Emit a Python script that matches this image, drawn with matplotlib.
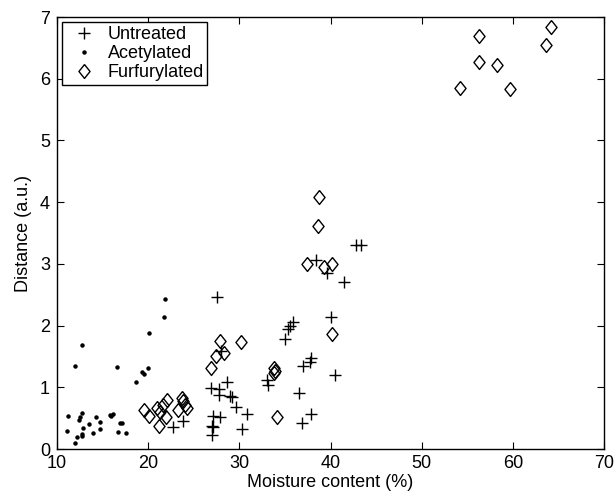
import matplotlib
matplotlib.use("Agg")
import matplotlib.pyplot as plt

plt.rcParams['font.family'] = ['Liberation Sans', 'DejaVu Sans']

# Untreated (+)
untreated_x = [42.8, 43.3, 38.4, 39.6, 41.5, 40.1, 40.5, 37.9, 37.8, 37.0, 37.9, 36.9,
               27.5, 35.9, 35.6, 35.3, 35.0, 33.0, 33.1, 26.9, 27.8, 28.6, 27.8, 29.0,
               29.2, 29.6, 30.8, 27.1, 27.9, 27.0, 27.1, 27.0, 30.3, 36.5, 23.8, 22.7,
               28.0]
untreated_y = [3.30, 3.30, 3.06, 2.85, 2.71, 2.14, 1.20, 1.47, 1.41, 1.35, 0.57, 0.42,
               2.46, 2.06, 1.99, 1.94, 1.78, 1.12, 1.04, 0.99, 0.97, 1.09, 0.88, 0.86,
               0.84, 0.68, 0.57, 0.53, 0.52, 0.37, 0.36, 0.23, 0.32, 0.91, 0.46, 0.36,
               1.58]

# Acetylated (.)
acetylated_x = [21.8, 21.7, 20.1, 12.7, 12.0, 16.6, 20.0, 19.3, 19.5, 18.7,
                11.2, 12.7, 12.5, 12.4, 12.9, 13.5, 14.3, 14.7, 14.7, 13.9,
                12.7, 12.7, 12.2, 11.1, 12.0, 15.8, 16.1, 15.9, 16.9, 17.1,
                16.7, 17.6]
acetylated_y = [2.43, 2.14, 1.88, 1.68, 1.35, 1.33, 1.31, 1.24, 1.22, 1.09,
                0.53, 0.58, 0.52, 0.47, 0.34, 0.41, 0.52, 0.44, 0.32, 0.26,
                0.24, 0.21, 0.19, 0.29, 0.10, 0.55, 0.57, 0.53, 0.42, 0.42,
                0.28, 0.26]

# Furfurylated (diamond)
furfurylated_x = [56.3, 64.2, 63.6, 56.3, 58.3, 54.2, 59.7,
                  38.7, 38.6, 37.4, 39.3, 40.2, 40.2,
                  27.9, 30.2, 28.3, 27.4, 26.9, 33.8, 33.9, 33.8, 34.1,
                  19.5, 20.1, 21.0, 21.3, 21.2, 22.1, 22.0, 21.6, 23.7, 23.8,
                  23.3, 24.3, 24.0]
furfurylated_y = [6.69, 6.84, 6.55, 6.27, 6.22, 5.85, 5.83,
                  4.08, 3.61, 3.00, 2.95, 3.00, 1.86,
                  1.75, 1.73, 1.56, 1.51, 1.31, 1.31, 1.26, 1.23, 0.52,
                  0.63, 0.53, 0.67, 0.60, 0.37, 0.79, 0.52, 0.71, 0.83, 0.77,
                  0.63, 0.66, 0.71]

xticks = [10, 20, 30, 40, 50, 60, 70]
yticks = [0, 1, 2, 3, 4, 5, 6, 7]

fig = plt.figure(figsize=(6.16, 4.95), dpi=100)
ax = fig.add_axes([57/616, 46/495, 547/616, 432/495])

diamond = [(0, 1), (0.8, 0), (0, -1), (-0.8, 0), (0, 1)]

ax.plot(untreated_x, untreated_y, linestyle='none', marker='+', markersize=9,
        markeredgewidth=1.0, color='black', label='Untreated')
ax.plot(acetylated_x, acetylated_y, linestyle='none', marker='o', markersize=2.2,
        color='black', label='Acetylated')
ax.plot(furfurylated_x, furfurylated_y, linestyle='none', marker=diamond, markersize=10,
        markeredgewidth=1.0, markerfacecolor='none', markeredgecolor='black',
        label='Furfurylated')

ax.set_xlim(10, 70)
ax.set_ylim(0, 7)
ax.set_xticks(xticks)
ax.set_yticks(yticks)
ax.tick_params(direction='in', top=True, right=True, length=5, width=0.8,
               labelsize=13, colors='black')
ax.tick_params(axis='y', pad=5)
ax.tick_params(axis='x', pad=4)
for s in ax.spines.values():
    s.set_linewidth(1.0)
ax.set_xlabel('Moisture content (%)', fontsize=13, labelpad=2)
ax.set_ylabel('Distance (a.u.)', fontsize=13, labelpad=6)

leg = ax.legend(loc='upper left', fontsize=13, frameon=True, fancybox=False,
                edgecolor='black', framealpha=1, borderpad=0.2, labelspacing=0.12,
                handletextpad=0.3, handlelength=2.0, borderaxespad=0.3)
leg.get_frame().set_linewidth(1.0)

fig.savefig('out.png', dpi=100)
